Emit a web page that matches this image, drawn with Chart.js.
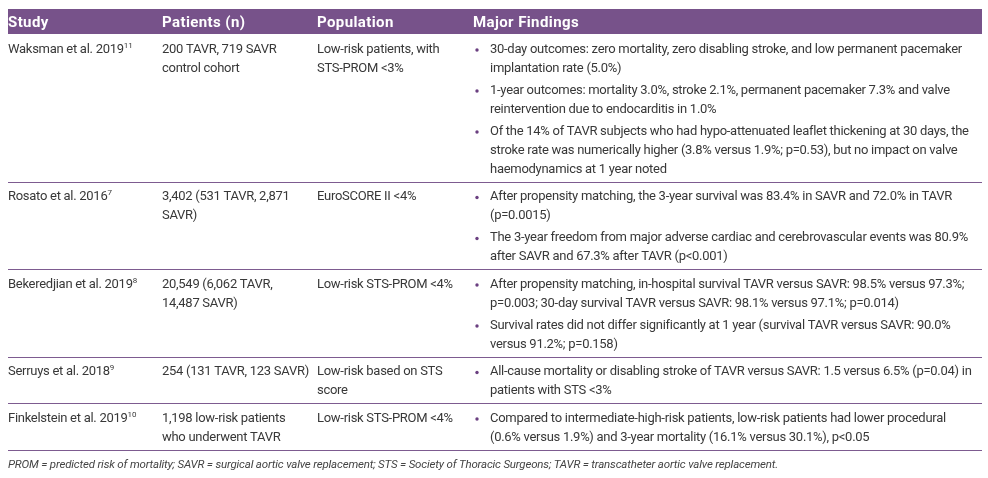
<!DOCTYPE html>
<html>
<head>
<meta charset="utf-8">
<script src="https://cdn.jsdelivr.net/npm/chart.js@4.4.1/dist/chart.umd.min.js"></script>
<style>
  html, body { margin: 0; padding: 0; background: #fff; }
  #wrap { width: 988px; height: 478px; position: relative; }
</style>
</head>
<body>
<div id="wrap"><canvas id="studyTable"></canvas></div>
<script>
/* ============================================================
   LOW-RISK TAVR STUDIES — summary table drawn on a Chart.js canvas
   ============================================================ */

const columns = ['Study', 'Patients (n)', 'Population', 'Major Findings'];

const studies = ['Waksman et al. 2019', 'Rosato et al. 2016', 'Bekeredjian et al. 2019', 'Serruys et al. 2018', 'Finkelstein et al. 2019'];
const refNums = ['11', '7', '8', '9', '10'];

const patients = [
  ['200 TAVR, 719 SAVR', 'control cohort'],
  ['3,402 (531 TAVR, 2,871', 'SAVR)'],
  ['20,549 (6,062 TAVR,', '14,487 SAVR)'],
  ['254 (131 TAVR, 123 SAVR)'],
  ['1,198 low-risk patients', 'who underwent TAVR'],
];

const populations = [
  ['Low-risk patients, with', 'STS-PROM <3%'],
  ['EuroSCORE II <4%'],
  ['Low-risk STS-PROM <4%'],
  ['Low-risk based on STS', 'score'],
  ['Low-risk STS-PROM <4%'],
];

// one entry per row, each a list of bullets, each bullet a list of wrapped lines
const findings = [
  [
    ['30-day outcomes: zero mortality, zero disabling stroke, and low permanent pacemaker', 'implantation rate (5.0%)'],
    ['1-year outcomes: mortality 3.0%, stroke 2.1%, permanent pacemaker 7.3% and valve', 'reintervention due to endocarditis in 1.0%'],
    ['Of the 14% of TAVR subjects who had hypo-attenuated leaflet thickening at 30 days, the', 'stroke rate was numerically higher (3.8% versus 1.9%; p=0.53), but no impact on valve', 'haemodynamics at 1 year noted'],
  ],
  [
    ['After propensity matching, the 3-year survival was 83.4% in SAVR and 72.0% in TAVR', '(p=0.0015)'],
    ['The 3-year freedom from major adverse cardiac and cerebrovascular events was 80.9%', 'after SAVR and 67.3% after TAVR (p<0.001)'],
  ],
  [
    ['After propensity matching, in-hospital survival TAVR versus SAVR: 98.5% versus 97.3%;', 'p=0.003; 30-day survival TAVR versus SAVR: 98.1% versus 97.1%; p=0.014)'],
    ['Survival rates did not differ significantly at 1 year (survival TAVR versus SAVR: 90.0%', 'versus 91.2%; p=0.158)'],
  ],
  [
    ['All-cause mortality or disabling stroke of TAVR versus SAVR: 1.5 versus 6.5% (p=0.04) in', 'patients with STS <3%'],
  ],
  [
    ['Compared to intermediate-high-risk patients, low-risk patients had lower procedural', '(0.6% versus 1.9%) and 3-year mortality (16.1% versus 30.1%), p<0.05'],
  ],
];

const footnote = 'PROM = predicted risk of mortality; SAVR = surgical aortic valve replacement; STS = Society of Thoracic Surgeons; TAVR = transcatheter aortic valve replacement.';

// layout + style (in chart units = px on a 988x478 scale)
const GEO = {
  left: 8, right: 982, headerTop: 9, headerBottom: 34,
  colX: [8, 162, 317, 473], bulletX: 477, textX: 490,
  lineH: 19, bulletGap: 3, padTop: 15.5, padBottom: 12, footY: 465,
};
const COLORS = { header: '#77528a', rule: '#7d5b90', bullet: '#6a3f80', text: '#383838', foot: '#444' };
const FAMILY = 'Roboto, "Open Sans", "Liberation Sans", sans-serif';

// font at a fixed size, tracking squeezed so that a reference string spans the measured width
function fitFont(ctx, text, style, size, target) {
  ctx.font = `${style} ${size}px ${FAMILY}`;
  ctx.letterSpacing = '0px';
  const w = ctx.measureText(text).width;
  return { font: ctx.font, spacing: ((target - w) / text.length) + 'px' };
}
function useFont(ctx, f) { ctx.font = f.font; ctx.letterSpacing = f.spacing; }

function rowHeight(i) {
  const nLines = findings[i].reduce((s, b) => s + b.length, 0);
  const fLines = (nLines - 1) * GEO.lineH + (findings[i].length - 1) * GEO.bulletGap;
  const other = Math.max(patients[i].length, populations[i].length, 1) - 1;
  return GEO.padTop + Math.max(fLines, other * GEO.lineH) + GEO.padBottom;
}

const tablePlugin = {
  id: 'tablePlugin',
  afterDraw(chart) {
    const { ctx, scales: { x, y } } = chart;
    const px = v => x.getPixelForValue(v);
    const py = v => y.getPixelForValue(v);

    const body = fitFont(ctx, findings[0][0][0], 'normal 400', 13, 472);
    const head = fitFont(ctx, columns[3], 'normal 700', 15, 106);
    const foot = fitFont(ctx, footnote, 'italic 400', 11.5, 770);
    const sup = { font: `normal 400 8px ${FAMILY}`, spacing: '0px' };

    ctx.save();
    ctx.textAlign = 'left';
    ctx.textBaseline = 'middle';

    // header band
    ctx.fillStyle = COLORS.header;
    ctx.fillRect(px(GEO.left), py(GEO.headerTop), px(GEO.right) - px(GEO.left), py(GEO.headerBottom) - py(GEO.headerTop));
    ctx.fillStyle = '#fff';
    useFont(ctx, head);
    columns.forEach((c, j) => ctx.fillText(c, px(GEO.colX[j]), py((GEO.headerTop + GEO.headerBottom) / 2 + 1.5)));

    // body rows
    let top = GEO.headerBottom;
    studies.forEach((name, i) => {
      const first = top + GEO.padTop;
      ctx.fillStyle = COLORS.text;
      useFont(ctx, body);

      // study + superscript reference
      ctx.fillText(name, px(GEO.colX[0]), py(first));
      const w = ctx.measureText(name).width;
      useFont(ctx, sup);
      ctx.fillText(refNums[i], px(GEO.colX[0]) + w, py(first - 4));
      useFont(ctx, body);

      patients[i].forEach((t, k) => ctx.fillText(t, px(GEO.colX[1]), py(first + k * GEO.lineH)));
      populations[i].forEach((t, k) => ctx.fillText(t, px(GEO.colX[2]), py(first + k * GEO.lineH)));

      let ly = first;
      findings[i].forEach(bullet => {
        ctx.fillStyle = COLORS.bullet;
        ctx.beginPath();
        ctx.arc(px(GEO.bulletX), py(ly + 0.5), 1.7, 0, Math.PI * 2);
        ctx.fill();
        ctx.fillStyle = COLORS.text;
        bullet.forEach(t => { ctx.fillText(t, px(GEO.textX), py(ly)); ly += GEO.lineH; });
        ly += GEO.bulletGap;
      });

      top += rowHeight(i);
      ctx.strokeStyle = COLORS.rule;
      ctx.lineWidth = 1.2;
      ctx.beginPath();
      const ry = Math.round(py(top)) + 0.5;
      ctx.moveTo(px(GEO.left), ry);
      ctx.lineTo(px(GEO.right), ry);
      ctx.stroke();
    });

    // footnote
    ctx.fillStyle = COLORS.foot;
    useFont(ctx, foot);
    ctx.fillText(footnote, px(GEO.colX[0]), py(GEO.footY));
    ctx.restore();
  }
};

new Chart(document.getElementById('studyTable'), {
  type: 'scatter',
  data: { datasets: [] },
  options: {
    responsive: true, maintainAspectRatio: false, animation: false, devicePixelRatio: 1,
    layout: { padding: 0 },
    scales: {
      x: { type: 'linear', min: 0, max: 988, display: false },
      y: { type: 'linear', min: 0, max: 478, reverse: true, display: false },
    },
    plugins: { legend: { display: false }, tooltip: { enabled: false } },
  },
  plugins: [tablePlugin],
});
</script>
</body>
</html>
